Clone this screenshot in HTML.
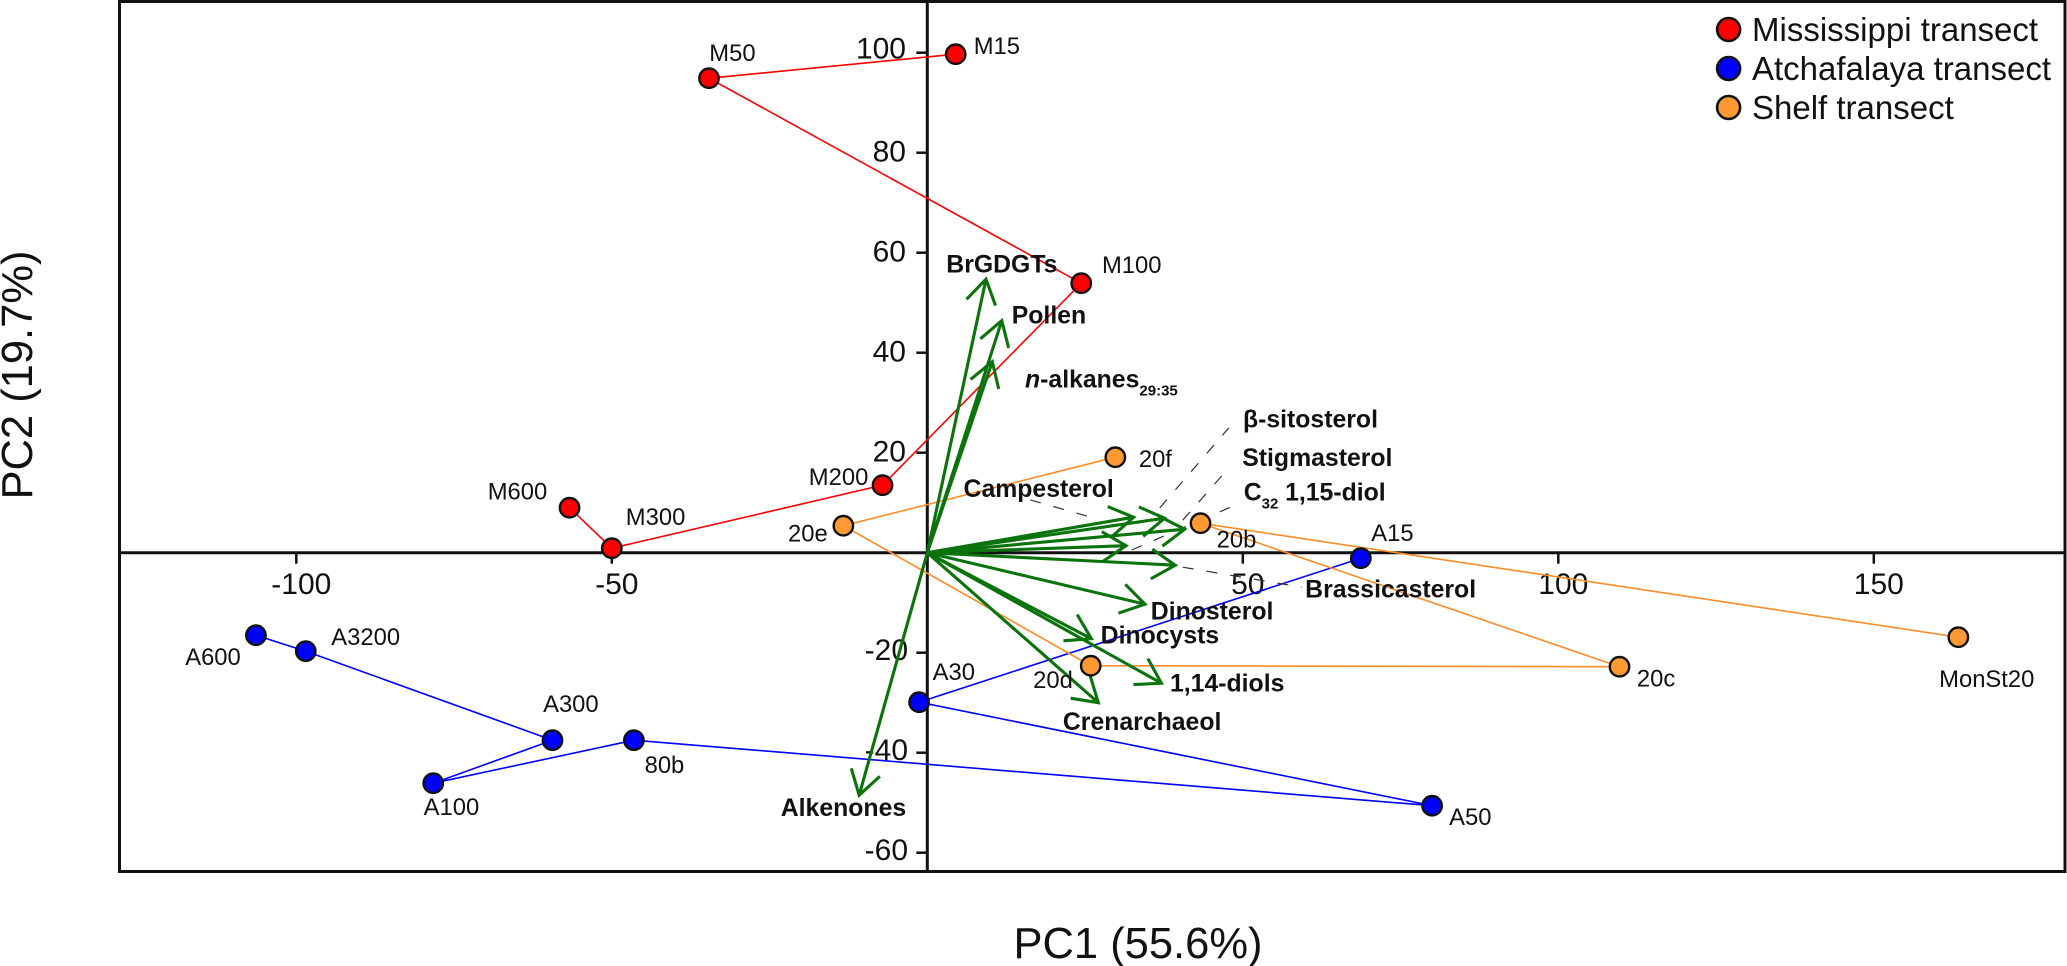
<!DOCTYPE html>
<html lang="en">
<head>
<meta charset="utf-8">
<title>PCA biplot</title>
<style>
  html, body { margin: 0; padding: 0; background: #fff; }
  body { width: 2067px; height: 966px; overflow: hidden; }
  svg { display: block; font-family: "Liberation Sans", Arial, sans-serif; }
</style>
</head>
<body>
<svg id="chart" xmlns="http://www.w3.org/2000/svg" width="2067" height="966" viewBox="0 0 2067 966">
  <rect x="0" y="0" width="2067" height="966" fill="#fff"/>
  <rect x="119.5" y="1.5" width="1945.5" height="870" fill="none" stroke="#111" stroke-width="3"/>
  <g id="axes"></g>
  <g id="site-lines"></g>
  <g id="leaders"></g>
  <g id="arrows"></g>
  <g id="points"></g>
  <g id="labels"></g>
  <text x="1138" y="958" font-size="43.5" text-anchor="middle" fill="#111">PC1 (55.6%)</text>
  <text transform="translate(32,375) rotate(-90)" font-size="43.5" text-anchor="middle" fill="#111">PC2 (19.7%)</text>
  <g>
    <g>
      <circle cx="1728.6" cy="29.5" r="11.5" fill="#ff0000" stroke="#111" stroke-width="2.6"/>
      <text x="1752" y="41" font-size="33" fill="#111">Mississippi transect</text>
    </g>
    <g>
      <circle cx="1728.6" cy="68.5" r="11.5" fill="#0000ff" stroke="#111" stroke-width="2.6"/>
      <text x="1752" y="80" font-size="33" fill="#111">Atchafalaya transect</text>
    </g>
    <g>
      <circle cx="1728.6" cy="107.5" r="11.5" fill="#ff9933" stroke="#111" stroke-width="2.6"/>
      <text x="1752" y="119" font-size="33" fill="#111">Shelf transect</text>
    </g>
  </g>
</svg>
<script>
// ---- chart data ----
const xTicks = [-100, -50, 50, 100, 150];
const yTicks = [100, 80, 60, 40, 20, -20, -40, -60];

const mississippiNames = ['M15', 'M50', 'M100', 'M200', 'M300', 'M600'];
const mississippiPc1 = [4.5, -34.6, 24.4, -7.1, -50.0, -56.7];
const mississippiPc2 = [99.7, 94.9, 53.9, 13.5, 0.9, 9.0];

const atchafalayaNames = ['A15', 'A30', 'A50', '80b', 'A100', 'A300', 'A3200', 'A600'];
const atchafalayaPc1 = [68.7, -1.3, 80.0, -46.5, -78.3, -59.4, -98.5, -106.4];
const atchafalayaPc2 = [-1.1, -29.9, -50.6, -37.5, -46.1, -37.5, -19.7, -16.5];

const shelfNames = ['20f', '20e', '20d', '20c', '20b', 'MonSt20'];
const shelfPc1 = [29.8, -13.3, 25.9, 109.7, 43.3, 163.4];
const shelfPc2 = [19.1, 5.4, -22.6, -22.8, 5.9, -16.9];

const loadingNames = ['BrGDGTs', 'Pollen', 'n-alkanes', 'Alkenones', 'Campesterol', 'β-sitosterol', 'Stigmasterol', 'C32 1,15-diol', 'Brassicasterol', 'Dinosterol', 'Dinocysts', '1,14-diols', 'Crenarchaeol'];
const loadingPc1 = [9.3, 11.8, 10.3, -10.8, 32.7, 37.6, 40.8, 31.5, 39.3, 34.5, 26.0, 37.1, 27.1];
const loadingPc2 = [54.7, 46.4, 38.2, -48.5, 7.1, 6.9, 4.7, 1.4, -2.5, -10.3, -17.2, -26.1, -30.0];

// ---- axis functions ----
function xScale(v) { return 927.3 + 6.31 * v; }
function yScale(v) { return 552.7 - 5 * v; }

const SVGNS = 'http://www.w3.org/2000/svg';
function make(tag, attrs, parent) {
  const el = document.createElementNS(SVGNS, tag);
  for (const k in attrs) el.setAttribute(k, attrs[k]);
  parent.appendChild(el);
  return el;
}

function drawAxes() {
  const g = document.getElementById('axes');
  const xAxis = make('line', { x1: 119.5, x2: 2065, y1: yScale(0), y2: yScale(0), stroke: '#111', 'stroke-width': 3 }, g);
  
  
  const yAxis = make('line', { x1: xScale(0), x2: xScale(0), y1: 1.5, y2: 871.5, stroke: '#111', 'stroke-width': 3 }, g);
  
  

  xTicks.forEach(function (v) {
    const tick = make('line', { x1: xScale(v), x2: xScale(v), y1: yScale(0), y2: yScale(0) + 11, stroke: '#111', 'stroke-width': 2.5 }, g);
    
    
    const label = make('text', { x: xScale(v) + 5, y: 594, 'font-size': 30, 'text-anchor': 'middle', fill: '#111' }, g);
    label.textContent = String(v);
    
    
  });

  yTicks.forEach(function (v) {
    const tick = make('line', { x1: xScale(0) - 11, x2: xScale(0), y1: yScale(v), y2: yScale(v), stroke: '#111', 'stroke-width': 2.5 }, g);
    
    
    const label = make('text', { x: v < 0 ? 908 : 906, y: yScale(v) + (v === 100 ? 5.6 : (v < 0 ? 7.5 : 9)), 'font-size': 30, 'text-anchor': 'end', fill: '#111' }, g);
    label.textContent = String(v);
    
    
  });
}

function drawTransect(key, names, pc1, pc2, lineColor, fillColor) {
  const pointOffsets = {
    'M15': [18, 0], 'M50': [0.3, -17], 'M100': [20.7, -10.3], 'M200': [-73.7, 0], 'M300': [14, -23.3], 'M600': [-81.8, -8],
    'A15': [10.5, -17], 'A30': [13.5, -22], 'A50': [17, 19.3], '80b': [10.7, 33], 'A100': [-9.6, 31.7], 'A300': [-9.4, -28.3], 'A3200': [25.5, -6], 'A600': [-70.7, 29.7],
    '20f': [23.5, 9.7], '20e': [-55.4, 16], '20d': [-57.6, 22.3], '20c': [17.4, 20], '20b': [16.1, 24.4], 'MonSt20': [-19.2, 50]
  };
  const coords = names.map(function (n, i) { return xScale(pc1[i]) + ',' + yScale(pc2[i]); }).join(' ');
  const line = make('polyline', { points: coords, fill: 'none', stroke: lineColor, 'stroke-width': 1.6 }, document.getElementById('site-lines'));
  
  

  names.forEach(function (n, i) {
    const px = xScale(pc1[i]);
    const py = yScale(pc2[i]);
    const dot = make('circle', { cx: px, cy: py, r: 9.7, fill: fillColor, stroke: '#111', 'stroke-width': 2.4 }, document.getElementById('points'));
    
    
    const off = pointOffsets[n];
    const label = make('text', { x: px + off[0], y: py + off[1], 'font-size': 23.8, fill: '#111' }, document.getElementById('labels'));
    label.textContent = n;
    
    
  });
}

function drawLoadings() {
  const labelOffsets = {
    'BrGDGTs': [-39.7, -6.6], 'Pollen': [10, 2.6], 'n-alkanes': [32.7, 25.6], 'Alkenones': [-78.4, 20.8],
    'Campesterol': [-170.1, -20], 'β-sitosterol': [78.4, -90.6], 'Stigmasterol': [57.5, -63], 'C32 1,15-diol': [117.7, -45],
    'Brassicasterol': [129.9, 32.3], 'Dinosterol': [5.8, 15.3], 'Dinocysts': [9.3, 4.6], '1,14-diols': [8.6, 8.4], 'Crenarchaeol': [-35.4, 27.3]
  };
  const leaderOffsets = {
    'β-sitosterol': [-4.8, -10.3, 64.2, -90.3],
    'Stigmasterol': [-2, -9, 42, -59],
    'C32 1,15-diol': [5.7, 4.3, 107.2, -39.7],
    'Campesterol': [-103.4, -17.3, -40.4, 0.7],
    'Brassicasterol': [7.5, 2, 126.5, 22]
  };
  const headLength = 28;
  const headAngle = 32 * Math.PI / 180;
  const ox = xScale(0);
  const oy = yScale(0);

  loadingNames.forEach(function (name, i) {
    const tx = xScale(loadingPc1[i]);
    const ty = yScale(loadingPc2[i]);
    const back = Math.atan2(oy - ty, ox - tx);
    const b1x = tx + headLength * Math.cos(back - headAngle);
    const b1y = ty + headLength * Math.sin(back - headAngle);
    const b2x = tx + headLength * Math.cos(back + headAngle);
    const b2y = ty + headLength * Math.sin(back + headAngle);

    const arrow = make('path', {
      d: 'M' + ox + ' ' + oy + 'L' + tx + ' ' + ty + 'M' + b1x + ' ' + b1y + 'L' + tx + ' ' + ty + 'L' + b2x + ' ' + b2y,
      fill: 'none', stroke: '#0b730b', 'stroke-width': 3.1, 'stroke-linejoin': 'miter'
    }, document.getElementById('arrows'));
    
    

    const lead = leaderOffsets[name];
    if (lead) {
      const leader = make('line', {
        x1: tx + lead[0], y1: ty + lead[1], x2: tx + lead[2], y2: ty + lead[3],
        stroke: '#333', 'stroke-width': 1.2, 'stroke-dasharray': '11 13'
      }, document.getElementById('leaders'));
      
      
    }

    const off = labelOffsets[name];
    const label = make('text', { x: tx + off[0], y: ty + off[1], 'font-size': 24.8, 'font-weight': 'bold', fill: '#111' }, document.getElementById('labels'));
    
    
    if (name === 'n-alkanes') {
      make('tspan', { 'font-style': 'italic' }, label).textContent = 'n';
      make('tspan', {}, label).textContent = '-alkanes';
      make('tspan', { 'font-size': 15, dy: 8 }, label).textContent = '29:35';
    } else if (name === 'C32 1,15-diol') {
      make('tspan', {}, label).textContent = 'C';
      make('tspan', { 'font-size': 15, dy: 8 }, label).textContent = '32';
      const rest = make('tspan', { dy: -8, dx: 6.7 }, label);
      rest.textContent = '1,15-diol';
    } else {
      label.textContent = name;
    }
  });
}

drawAxes();
drawTransect('mississippi', mississippiNames, mississippiPc1, mississippiPc2, '#ff0000', '#ff0000');
drawTransect('atchafalaya', atchafalayaNames, atchafalayaPc1, atchafalayaPc2, '#0000ff', '#0000ff');
drawTransect('shelf', shelfNames, shelfPc1, shelfPc2, '#ff8c26', '#ff9933');
drawLoadings();
</script>
</body>
</html>
